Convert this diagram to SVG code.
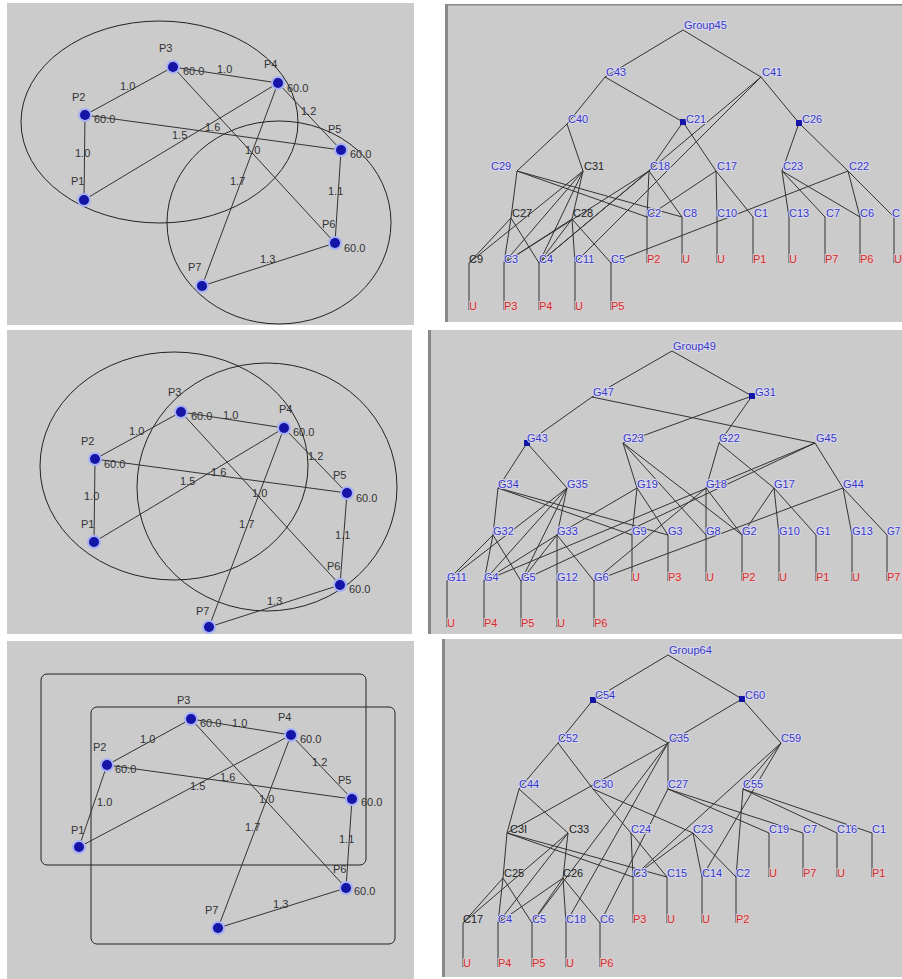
<svg xmlns="http://www.w3.org/2000/svg" width="902" height="979" viewBox="0 0 902 979">
<style>
.bg{fill:#cbcbcb}
.ln{stroke:#333;stroke-width:1;fill:none}
.sh{stroke:#222;stroke-width:1;fill:none}
text{font-family:"Liberation Sans",Arial,sans-serif;font-size:11px}
.g{fill:#333}
.b{fill:#3838bf;stroke:#d8d8ee;stroke-width:2;paint-order:stroke}
.r{fill:#cc3030;stroke:#e2c8c8;stroke-width:2;paint-order:stroke}
.k{fill:#222}
.halo{fill:#a8b0f4}
.dot{fill:#1414a6}
.sq{fill:#1414a6}
</style>
<rect width="902" height="979" fill="#fff"/>
<!-- panels -->
<rect class="bg" x="7" y="3" width="407" height="322"/>
<rect class="bg" x="7" y="330" width="405" height="304"/>
<rect class="bg" x="7" y="641" width="407" height="338"/>
<rect class="bg" x="445" y="4" width="457" height="318"/>
<rect x="445" y="4" width="3" height="318" fill="#888"/>
<rect x="445" y="4" width="457" height="1.5" fill="#888"/>
<rect class="bg" x="428" y="330" width="474" height="304"/>
<rect x="428" y="330" width="3" height="304" fill="#888"/>
<rect class="bg" x="442" y="639" width="460" height="338"/>
<rect x="442" y="639" width="3" height="338" fill="#888"/>

<!-- LEFT PANEL 1 -->
<g id="left1-shapes">
<ellipse class="sh" cx="159.5" cy="122" rx="138.5" ry="101"/>
<ellipse class="sh" cx="279" cy="222.5" rx="112" ry="101.5"/>
</g>
<g id="left1-connectors">
<line class="ln" x1="84" y1="200" x2="85" y2="115"/>
<line class="ln" x1="85" y1="115" x2="173" y2="67"/>
<line class="ln" x1="173" y1="67" x2="278" y2="83"/>
<line class="ln" x1="278" y1="83" x2="341" y2="150"/>
<line class="ln" x1="341" y1="150" x2="335" y2="243"/>
<line class="ln" x1="335" y1="243" x2="202" y2="286"/>
<line class="ln" x1="85" y1="115" x2="341" y2="150"/>
<line class="ln" x1="84" y1="200" x2="278" y2="83"/>
<line class="ln" x1="173" y1="67" x2="335" y2="243"/>
<line class="ln" x1="278" y1="83" x2="202" y2="286"/>
<text class="g" x="120" y="90">1.0</text>
<text class="g" x="217" y="73">1.0</text>
<text class="g" x="301" y="115">1.2</text>
<text class="g" x="205" y="131">1.6</text>
<text class="g" x="172" y="139">1.5</text>
<text class="g" x="245" y="154">1.0</text>
<text class="g" x="75" y="157">1.0</text>
<text class="g" x="230" y="185">1.7</text>
<text class="g" x="328" y="195">1.1</text>
<text class="g" x="260" y="263">1.3</text>
</g>
<g id="left1-P1"><circle class="halo" cx="84" cy="200" r="7"/><circle class="dot" cx="84" cy="200" r="5"/><text class="g" x="71" y="185">P1</text></g>
<g id="left1-P2"><circle class="halo" cx="85" cy="115" r="7"/><circle class="dot" cx="85" cy="115" r="5"/><text class="g" x="72" y="101">P2</text><text class="g" x="94" y="123">60.0</text></g>
<g id="left1-P3"><circle class="halo" cx="173" cy="67" r="7"/><circle class="dot" cx="173" cy="67" r="5"/><text class="g" x="159" y="52">P3</text><text class="g" x="183" y="75">60.0</text></g>
<g id="left1-P4"><circle class="halo" cx="278" cy="83" r="7"/><circle class="dot" cx="278" cy="83" r="5"/><text class="g" x="264" y="68">P4</text><text class="g" x="287" y="92">60.0</text></g>
<g id="left1-P5"><circle class="halo" cx="341" cy="150" r="7"/><circle class="dot" cx="341" cy="150" r="5"/><text class="g" x="328" y="133">P5</text><text class="g" x="350" y="158">60.0</text></g>
<g id="left1-P6"><circle class="halo" cx="335" cy="243" r="7"/><circle class="dot" cx="335" cy="243" r="5"/><text class="g" x="322" y="228">P6</text><text class="g" x="344" y="252">60.0</text></g>
<g id="left1-P7"><circle class="halo" cx="202" cy="286" r="7"/><circle class="dot" cx="202" cy="286" r="5"/><text class="g" x="188" y="271">P7</text></g>

<!-- LEFT PANEL 2 -->
<g id="left2-shapes">
<ellipse class="sh" cx="174" cy="466" rx="134" ry="114"/>
<ellipse class="sh" cx="267" cy="487" rx="130" ry="124"/>
</g>
<g id="left2-connectors">
<line class="ln" x1="94" y1="542" x2="95" y2="459"/>
<line class="ln" x1="95" y1="459" x2="181" y2="412"/>
<line class="ln" x1="181" y1="412" x2="284" y2="428"/>
<line class="ln" x1="284" y1="428" x2="347" y2="493"/>
<line class="ln" x1="347" y1="493" x2="340" y2="585"/>
<line class="ln" x1="340" y1="585" x2="209" y2="627"/>
<line class="ln" x1="95" y1="459" x2="347" y2="493"/>
<line class="ln" x1="94" y1="542" x2="284" y2="428"/>
<line class="ln" x1="181" y1="412" x2="340" y2="585"/>
<line class="ln" x1="284" y1="428" x2="209" y2="627"/>
<text class="g" x="129" y="435">1.0</text>
<text class="g" x="223" y="419">1.0</text>
<text class="g" x="308" y="460">1.2</text>
<text class="g" x="211" y="476">1.6</text>
<text class="g" x="180" y="485">1.5</text>
<text class="g" x="252" y="497">1.0</text>
<text class="g" x="84" y="500">1.0</text>
<text class="g" x="239" y="528">1.7</text>
<text class="g" x="335" y="539">1.1</text>
<text class="g" x="267" y="605">1.3</text>
</g>
<g id="left2-P1"><circle class="halo" cx="94" cy="542" r="7"/><circle class="dot" cx="94" cy="542" r="5"/><text class="g" x="81" y="528">P1</text></g>
<g id="left2-P2"><circle class="halo" cx="95" cy="459" r="7"/><circle class="dot" cx="95" cy="459" r="5"/><text class="g" x="81" y="445">P2</text><text class="g" x="104" y="468">60.0</text></g>
<g id="left2-P3"><circle class="halo" cx="181" cy="412" r="7"/><circle class="dot" cx="181" cy="412" r="5"/><text class="g" x="168" y="396">P3</text><text class="g" x="191" y="420">60.0</text></g>
<g id="left2-P4"><circle class="halo" cx="284" cy="428" r="7"/><circle class="dot" cx="284" cy="428" r="5"/><text class="g" x="279" y="413">P4</text><text class="g" x="293" y="436">60.0</text></g>
<g id="left2-P5"><circle class="halo" cx="347" cy="493" r="7"/><circle class="dot" cx="347" cy="493" r="5"/><text class="g" x="333" y="479">P5</text><text class="g" x="356" y="502">60.0</text></g>
<g id="left2-P6"><circle class="halo" cx="340" cy="585" r="7"/><circle class="dot" cx="340" cy="585" r="5"/><text class="g" x="327" y="570">P6</text><text class="g" x="349" y="593">60.0</text></g>
<g id="left2-P7"><circle class="halo" cx="209" cy="627" r="7"/><circle class="dot" cx="209" cy="627" r="5"/><text class="g" x="196" y="615">P7</text></g>

<!-- LEFT PANEL 3 -->
<g id="left3-shapes">
<rect class="sh" x="41" y="674" width="325" height="191" rx="6"/>
<rect class="sh" x="91" y="707" width="304" height="237" rx="6"/>
</g>
<g id="left3-connectors">
<line class="ln" x1="79" y1="847" x2="107" y2="765"/>
<line class="ln" x1="107" y1="765" x2="191" y2="719"/>
<line class="ln" x1="191" y1="719" x2="291" y2="735"/>
<line class="ln" x1="291" y1="735" x2="352" y2="799"/>
<line class="ln" x1="352" y1="799" x2="346" y2="888"/>
<line class="ln" x1="346" y1="888" x2="218" y2="928"/>
<line class="ln" x1="107" y1="765" x2="352" y2="799"/>
<line class="ln" x1="79" y1="847" x2="291" y2="735"/>
<line class="ln" x1="191" y1="719" x2="346" y2="888"/>
<line class="ln" x1="291" y1="735" x2="218" y2="928"/>
<text class="g" x="140" y="743">1.0</text>
<text class="g" x="232" y="727">1.0</text>
<text class="g" x="312" y="766">1.2</text>
<text class="g" x="220" y="781">1.6</text>
<text class="g" x="190" y="790">1.5</text>
<text class="g" x="259" y="803">1.0</text>
<text class="g" x="97" y="806">1.0</text>
<text class="g" x="245" y="831">1.7</text>
<text class="g" x="339" y="843">1.1</text>
<text class="g" x="273" y="908">1.3</text>
</g>
<g id="left3-P1"><circle class="halo" cx="79" cy="847" r="7"/><circle class="dot" cx="79" cy="847" r="5"/><text class="g" x="71" y="834">P1</text></g>
<g id="left3-P2"><circle class="halo" cx="107" cy="765" r="7"/><circle class="dot" cx="107" cy="765" r="5"/><text class="g" x="93" y="751">P2</text><text class="g" x="115" y="773">60.0</text></g>
<g id="left3-P3"><circle class="halo" cx="191" cy="719" r="7"/><circle class="dot" cx="191" cy="719" r="5"/><text class="g" x="177" y="704">P3</text><text class="g" x="200" y="727">60.0</text></g>
<g id="left3-P4"><circle class="halo" cx="291" cy="735" r="7"/><circle class="dot" cx="291" cy="735" r="5"/><text class="g" x="278" y="721">P4</text><text class="g" x="300" y="743">60.0</text></g>
<g id="left3-P5"><circle class="halo" cx="352" cy="799" r="7"/><circle class="dot" cx="352" cy="799" r="5"/><text class="g" x="338" y="784">P5</text><text class="g" x="361" y="806">60.0</text></g>
<g id="left3-P6"><circle class="halo" cx="346" cy="888" r="7"/><circle class="dot" cx="346" cy="888" r="5"/><text class="g" x="333" y="873">P6</text><text class="g" x="354" y="895">60.0</text></g>
<g id="left3-P7"><circle class="halo" cx="218" cy="928" r="7"/><circle class="dot" cx="218" cy="928" r="5"/><text class="g" x="205" y="914">P7</text></g>

<!-- TREE 1 -->
<g id="tree1-connectors" class="ln">
<path d="M683 30L605 77M683 30L761 77M605 77L567 124M605 77L683 122M761 77L799 123M761 77L539 263M761 77L575 263M567 124L517 171M567 124L583 171M683 122L649 171M683 122L716 171M799 123L782 171M799 123L848 171"/>
<path d="M517 171L511 218M517 171L647 217M517 171L682 217M583 171L572 219M583 171L469 263M583 171L504 263M583 171L539 263M649 171L647 217M649 171L682 217M649 171L504 263M649 171L539 263M716 171L717 217M716 171L753 217M716 171L647 217M782 171L789 217M782 171L825 217M782 171L860 217M848 171L860 217M848 171L894 217M848 171L611 263"/>
<path d="M511 218L469 263M511 218L504 263M511 218L539 263M572 219L504 263M572 219L539 263M572 219L575 263M572 219L611 263"/>
<path d="M647 217V263M682 217V263M717 217V263M753 217V263M789 217V263M825 217V263M860 217V263M894 217V263M469 263V310M504 263V310M539 263V310M575 263V310M611 263V310"/>
</g>
<g id="t1-Group45"><text class="b" x="684" y="29">Group45</text></g>
<g id="t1-C43"><text class="b" x="606" y="76">C43</text></g>
<g id="t1-C41"><text class="b" x="762" y="76">C41</text></g>
<g id="t1-C40"><text class="b" x="568" y="123">C40</text></g>
<g id="t1-C21"><rect class="sq" x="680" y="119" width="6" height="6"/><text class="b" x="686" y="123">C21</text></g>
<g id="t1-C26"><rect class="sq" x="796" y="120" width="6" height="6"/><text class="b" x="802" y="123">C26</text></g>
<g id="t1-C29"><text class="b" x="491" y="170">C29</text></g>
<g id="t1-C31"><text class="k" x="584" y="170">C31</text></g>
<g id="t1-C18"><text class="b" x="650" y="170">C18</text></g>
<g id="t1-C17"><text class="b" x="717" y="170">C17</text></g>
<g id="t1-C23"><text class="b" x="783" y="170">C23</text></g>
<g id="t1-C22"><text class="b" x="849" y="170">C22</text></g>
<g id="t1-C27"><text class="k" x="512" y="217">C27</text></g>
<g id="t1-C28"><text class="k" x="573" y="217">C28</text></g>
<g id="t1-C2"><text class="b" x="647" y="217">C2</text></g>
<g id="t1-C8"><text class="b" x="683" y="217">C8</text></g>
<g id="t1-C10"><text class="b" x="717" y="217">C10</text></g>
<g id="t1-C1"><text class="b" x="754" y="217">C1</text></g>
<g id="t1-C13"><text class="b" x="789" y="217">C13</text></g>
<g id="t1-C7"><text class="b" x="826" y="217">C7</text></g>
<g id="t1-C6"><text class="b" x="860" y="217">C6</text></g>
<g id="t1-Cx"><text class="b" x="892" y="217">C</text></g>
<g id="t1-C9"><text class="k" x="469" y="263">C9</text></g>
<g id="t1-C3"><text class="b" x="504" y="263">C3</text></g>
<g id="t1-C4"><text class="b" x="539" y="263">C4</text></g>
<g id="t1-C11"><text class="b" x="575" y="263">C11</text></g>
<g id="t1-C5"><text class="b" x="611" y="263">C5</text></g>
<g id="t1-P2"><text class="r" x="647" y="263">P2</text></g>
<g id="t1-U1"><text class="r" x="682" y="263">U</text></g>
<g id="t1-U2"><text class="r" x="717" y="263">U</text></g>
<g id="t1-P1"><text class="r" x="753" y="263">P1</text></g>
<g id="t1-U3"><text class="r" x="789" y="263">U</text></g>
<g id="t1-P7"><text class="r" x="825" y="263">P7</text></g>
<g id="t1-P6"><text class="r" x="860" y="263">P6</text></g>
<g id="t1-U4"><text class="r" x="894" y="263">U</text></g>
<g id="t1-U5"><text class="r" x="469" y="310">U</text></g>
<g id="t1-P3"><text class="r" x="504" y="310">P3</text></g>
<g id="t1-P4"><text class="r" x="539" y="310">P4</text></g>
<g id="t1-U6"><text class="r" x="575" y="310">U</text></g>
<g id="t1-P5"><text class="r" x="611" y="310">P5</text></g>

<!-- TREE 2 -->
<g id="tree2-connectors" class="ln">
<path d="M672 351L592 397M672 351L752 396M592 397L527 443M592 397L815 443M752 396L623 443M752 396L719 443"/>
<path d="M527 443L498 488M527 443L567 488M623 443L637 488M623 443L706 535M623 443L742 535M719 443L706 488M719 443L774 488M815 443L843 488M815 443L484 581M815 443L521 581"/>
<path d="M498 488L493 535M498 488L632 535M498 488L668 535M567 488L557 535M567 488L447 581M567 488L484 581M567 488L521 581M637 488L632 535M637 488L668 535M637 488L557 535M706 488L706 535M706 488L742 535M706 488L594 581M774 488L779 535M774 488L816 535M774 488L742 535M843 488L852 535M843 488L887 535M843 488L594 581"/>
<path d="M493 535L447 581M493 535L484 581M493 535L521 581M557 535L484 581M557 535L557 581M557 535L521 581M557 535L594 581"/>
<path d="M632 535V581M668 535V581M706 535V581M742 535V581M779 535V581M816 535V581M852 535V581M887 535V581M447 581V627M484 581V627M521 581V627M557 581V627M594 581V627"/>
</g>
<g id="t2-Group49"><text class="b" x="673" y="350">Group49</text></g>
<g id="t2-G47"><text class="b" x="593" y="396">G47</text></g>
<g id="t2-G31"><rect class="sq" x="749" y="393" width="6" height="6"/><text class="b" x="755" y="396">G31</text></g>
<g id="t2-G43"><rect class="sq" x="524" y="440" width="6" height="6"/><text class="b" x="527" y="442">G43</text></g>
<g id="t2-G23"><text class="b" x="623" y="442">G23</text></g>
<g id="t2-G22"><text class="b" x="719" y="442">G22</text></g>
<g id="t2-G45"><text class="b" x="816" y="442">G45</text></g>
<g id="t2-G34"><text class="b" x="498" y="488">G34</text></g>
<g id="t2-G35"><text class="b" x="567" y="488">G35</text></g>
<g id="t2-G19"><text class="b" x="637" y="488">G19</text></g>
<g id="t2-G18"><text class="b" x="706" y="488">G18</text></g>
<g id="t2-G17"><text class="b" x="774" y="488">G17</text></g>
<g id="t2-G44"><text class="b" x="843" y="488">G44</text></g>
<g id="t2-G32"><text class="b" x="493" y="535">G32</text></g>
<g id="t2-G33"><text class="b" x="557" y="535">G33</text></g>
<g id="t2-G9"><text class="b" x="632" y="535">G9</text></g>
<g id="t2-G3"><text class="b" x="668" y="535">G3</text></g>
<g id="t2-G8"><text class="b" x="706" y="535">G8</text></g>
<g id="t2-G2"><text class="b" x="742" y="535">G2</text></g>
<g id="t2-G10"><text class="b" x="779" y="535">G10</text></g>
<g id="t2-G1"><text class="b" x="816" y="535">G1</text></g>
<g id="t2-G13"><text class="b" x="852" y="535">G13</text></g>
<g id="t2-G7"><text class="b" x="887" y="535" style="font-size:10px">G7</text></g>
<g id="t2-G11"><text class="b" x="447" y="581">G11</text></g>
<g id="t2-G4"><text class="b" x="484" y="581">G4</text></g>
<g id="t2-G5"><text class="b" x="521" y="581">G5</text></g>
<g id="t2-G12"><text class="b" x="557" y="581">G12</text></g>
<g id="t2-G6"><text class="b" x="594" y="581">G6</text></g>
<g id="t2-U1"><text class="r" x="632" y="581">U</text></g>
<g id="t2-P3"><text class="r" x="668" y="581">P3</text></g>
<g id="t2-U2"><text class="r" x="706" y="581">U</text></g>
<g id="t2-P2"><text class="r" x="742" y="581">P2</text></g>
<g id="t2-U3"><text class="r" x="779" y="581">U</text></g>
<g id="t2-P1"><text class="r" x="816" y="581">P1</text></g>
<g id="t2-U4"><text class="r" x="852" y="581">U</text></g>
<g id="t2-P7"><text class="r" x="887" y="581">P7</text></g>
<g id="t2-U5"><text class="r" x="447" y="627">U</text></g>
<g id="t2-P4"><text class="r" x="484" y="627">P4</text></g>
<g id="t2-P5"><text class="r" x="521" y="627">P5</text></g>
<g id="t2-U6"><text class="r" x="557" y="627">U</text></g>
<g id="t2-P6"><text class="r" x="594" y="627">P6</text></g>

<!-- TREE 3 -->
<g id="tree3-connectors" class="ln">
<path d="M668 655L593 700M668 655L742 699M593 700L558 743M593 700L668 743M742 699L668 743M742 699L781 743"/>
<path d="M558 743L519 789M558 743L593 789M668 743L507 833M668 743L668 789M668 743L532 923M668 743L566 923M781 743L743 789M781 743L633 877M781 743L702 877"/>
<path d="M519 789L507 833M519 789L568 833M593 789L631 833M593 789L693 833M668 789L769 833M668 789L803 833M668 789L600 923M743 789L837 833M743 789L872 833M743 789L736 877"/>
<path d="M507 833L503 878M507 833L633 877M507 833L667 877M568 833L563 878M568 833L463 923M568 833L498 923M631 833L633 877M631 833L667 877M693 833L702 877M693 833L736 877M693 833L633 877"/>
<path d="M503 878L463 923M503 878L498 923M503 878L532 923M563 878L498 923M563 878L532 923M563 878L566 923M563 878L600 923"/>
<path d="M769 833V877M803 833V877M837 833V877M872 833V877M633 877V923M667 877V923M702 877V923M736 877V923M463 923V967M498 923V967M532 923V967M566 923V967M600 923V967"/>
</g>
<g id="t3-Group64"><text class="b" x="669" y="654">Group64</text></g>
<g id="t3-C54"><rect class="sq" x="590" y="697" width="6" height="6"/><text class="b" x="595" y="699">C54</text></g>
<g id="t3-C60"><rect class="sq" x="739" y="696" width="6" height="6"/><text class="b" x="745" y="699">C60</text></g>
<g id="t3-C52"><text class="b" x="558" y="742">C52</text></g>
<g id="t3-C35"><text class="b" x="669" y="742">C35</text></g>
<g id="t3-C59"><text class="b" x="781" y="742">C59</text></g>
<g id="t3-C44"><text class="b" x="519" y="788">C44</text></g>
<g id="t3-C30"><text class="b" x="593" y="788">C30</text></g>
<g id="t3-C27"><text class="b" x="668" y="788">C27</text></g>
<g id="t3-C55"><text class="b" x="743" y="788">C55</text></g>
<g id="t3-C3I"><text class="k" x="510" y="833">C3I</text></g>
<g id="t3-C33"><text class="k" x="569" y="833">C33</text></g>
<g id="t3-C24"><text class="b" x="631" y="833">C24</text></g>
<g id="t3-C23"><text class="b" x="693" y="833">C23</text></g>
<g id="t3-C19"><text class="b" x="769" y="833">C19</text></g>
<g id="t3-C7"><text class="b" x="803" y="833">C7</text></g>
<g id="t3-C16"><text class="b" x="837" y="833">C16</text></g>
<g id="t3-C1"><text class="b" x="872" y="833">C1</text></g>
<g id="t3-C25"><text class="k" x="504" y="877">C25</text></g>
<g id="t3-C26"><text class="k" x="563" y="877">C26</text></g>
<g id="t3-C3"><text class="b" x="633" y="877">C3</text></g>
<g id="t3-C15"><text class="b" x="667" y="877">C15</text></g>
<g id="t3-C14"><text class="b" x="702" y="877">C14</text></g>
<g id="t3-C2"><text class="b" x="736" y="877">C2</text></g>
<g id="t3-U1"><text class="r" x="769" y="877">U</text></g>
<g id="t3-P7"><text class="r" x="803" y="877">P7</text></g>
<g id="t3-U2"><text class="r" x="837" y="877">U</text></g>
<g id="t3-P1"><text class="r" x="872" y="877">P1</text></g>
<g id="t3-C17"><text class="k" x="463" y="923">C17</text></g>
<g id="t3-C4"><text class="b" x="498" y="923">C4</text></g>
<g id="t3-C5"><text class="b" x="532" y="923">C5</text></g>
<g id="t3-C18"><text class="b" x="566" y="923">C18</text></g>
<g id="t3-C6"><text class="b" x="600" y="923">C6</text></g>
<g id="t3-P3"><text class="r" x="633" y="923">P3</text></g>
<g id="t3-U3"><text class="r" x="667" y="923">U</text></g>
<g id="t3-U4"><text class="r" x="702" y="923">U</text></g>
<g id="t3-P2"><text class="r" x="736" y="923">P2</text></g>
<g id="t3-U5"><text class="r" x="463" y="967">U</text></g>
<g id="t3-P4"><text class="r" x="498" y="967">P4</text></g>
<g id="t3-P5"><text class="r" x="532" y="967">P5</text></g>
<g id="t3-U6"><text class="r" x="566" y="967">U</text></g>
<g id="t3-P6"><text class="r" x="600" y="967">P6</text></g>
</svg>
